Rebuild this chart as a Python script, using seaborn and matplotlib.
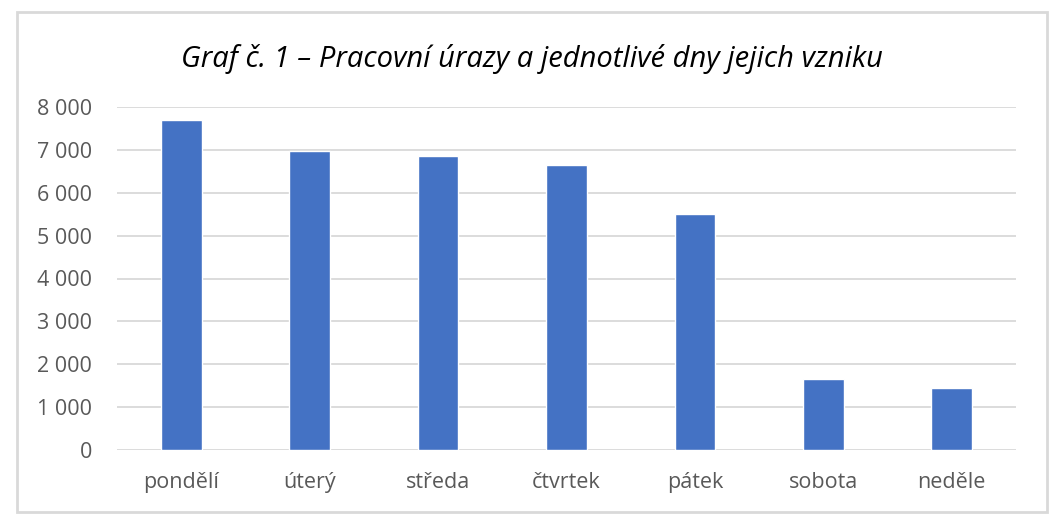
import matplotlib
matplotlib.use("Agg")
import matplotlib.pyplot as plt
from matplotlib.patches import Rectangle
from matplotlib.ticker import FuncFormatter
import pandas as pd
import seaborn as sns

# Data
days = ["pondělí", "úterý", "středa", "čtvrtek", "pátek", "sobota", "neděle"]
injuries = [7700, 6980, 6855, 6640, 5510, 1665, 1445]
y_ticks = [0, 1000, 2000, 3000, 4000, 5000, 6000, 7000, 8000]

TITLE = "Graf č. 1 – Pracovní úrazy a jednotlivé dny jejich vzniku"
BAR_COLOR = "#4472C4"
GRID_COLOR = "#D9D9D9"
TEXT_COLOR = "#595959"

sns.set_theme(style="white")
plt.rcParams["font.family"] = ["Open Sans", "DejaVu Sans"]

df = pd.DataFrame({"den": days, "pocet": injuries})

fig = plt.figure(figsize=(10.6, 5.23), dpi=100)
ax = fig.add_axes([117 / 1060, 73 / 523, 899 / 1060, 343 / 523])

sns.barplot(data=df, x="den", y="pocet", ax=ax, color=BAR_COLOR,
            saturation=1, width=0.316, zorder=3)

ax.set_ylim(0, 8000)
ax.set_xlim(-0.5, len(days) - 0.5)
ax.set_yticks(y_ticks)
ax.yaxis.set_major_formatter(FuncFormatter(lambda v, p: f"{int(v):,}".replace(",", " ")))
ax.grid(axis="y", color=GRID_COLOR, linewidth=1.3, zorder=0)
ax.set_axisbelow(True)
for s in ax.spines.values():
    s.set_visible(False)
ax.set_xlabel("")
ax.set_ylabel("")
ax.tick_params(axis="both", length=0, labelsize=15.5, colors=TEXT_COLOR)
ax.tick_params(axis="y", pad=18)
ax.tick_params(axis="x", pad=16)

fig.text(532 / 1060, 1 - 67 / 523, TITLE, ha="center", va="baseline",
         fontsize=21, style="italic", color="#000000")

# light grey frame around the chart
fig.patches.append(Rectangle((17 / 1060, 11 / 523), 1030 / 1060, 500 / 523,
                             transform=fig.transFigure, fill=False,
                             edgecolor=GRID_COLOR, linewidth=2))

fig.savefig("out.png", dpi=100)
plt.close(fig)
